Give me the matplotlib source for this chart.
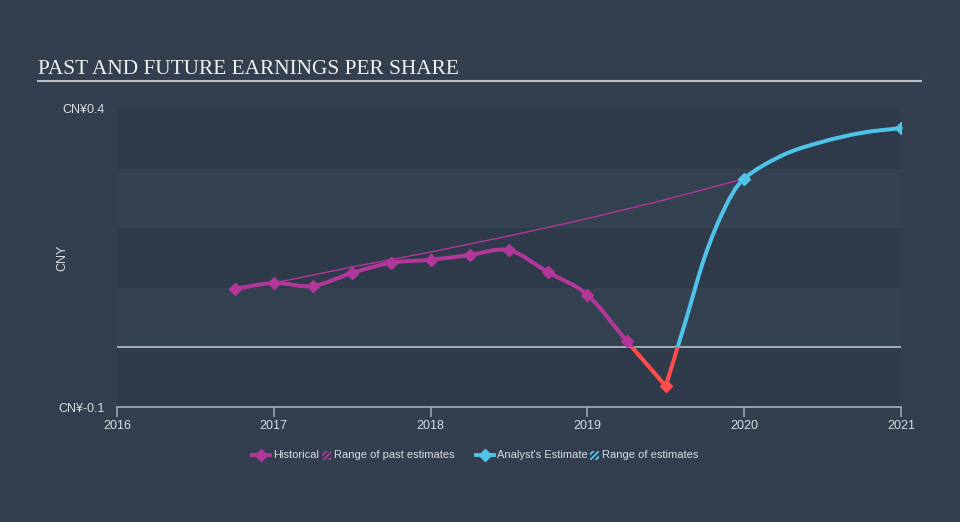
import matplotlib
matplotlib.use("Agg")
import matplotlib.pyplot as plt
from matplotlib.lines import Line2D
from matplotlib.patches import Rectangle, PathPatch
from matplotlib.path import Path

# data
hist_years = [2016.75, 2017.0, 2017.25, 2017.5, 2017.75, 2018.0, 2018.25, 2018.5,
              2018.75, 2019.0, 2019.25, 2019.5]
hist_eps = [0.098, 0.108, 0.103, 0.125, 0.142, 0.147, 0.155, 0.163,
            0.126, 0.088, 0.011, -0.065]

fcst_years = [2019.5, 2019.625, 2019.75, 2019.875, 2020.0, 2020.25, 2020.5, 2020.75, 2021.0]
fcst_eps = [-0.065, 0.043, 0.153, 0.233, 0.283, 0.323, 0.345, 0.360, 0.368]
fcst_marked = [4, 8]

past_est_years = [2017.0, 2017.5, 2018.0, 2018.5, 2019.0, 2019.5, 2020.0]
past_est_eps = [0.108, 0.135, 0.160, 0.187, 0.216, 0.248, 0.283]

x_ticks = [2016, 2017, 2018, 2019, 2020, 2021]
y_ticks = [-0.1, 0.4]
y_ticklabels = ["CN¥-0.1", "CN¥0.4"]

BG = "#333f4f"
BAND_DARK = "#2f3b4a"
BAND_LIGHT = "#344150"
MAGENTA = "#b2379b"
BLUE = "#4fc3e8"
RED = "#ff4d4d"
TXT = "#d8dde2"
AXIS = "#a3afbb"

plt.rcParams['font.family'] = ['Liberation Sans', 'DejaVu Sans']
plt.rcParams['hatch.linewidth'] = 1.3

fig = plt.figure(figsize=(9.6, 5.22), dpi=100, facecolor=BG)
ax = fig.add_axes([0.1219, 0.2203, 0.8166, 0.5709])
ax.set_facecolor(BAND_LIGHT)
ax.set_xlim(2016, 2021)
ax.set_ylim(-0.1, 0.4)

# horizontal bands
for lo in [-0.1, 0.1, 0.3]:
    ax.axhspan(lo, lo + 0.1, color=BAND_DARK, lw=0, zorder=0)
ax.axhline(0, color="#c4c8cc", lw=1.1, zorder=1)

# range of past estimates
ax.plot(past_est_years, past_est_eps, color=MAGENTA, lw=1, zorder=2)


def smooth_path(x, y):
    # catmull-rom through the points, drawn as cubic bezier segments
    n = len(x)
    verts = [(x[0], y[0])]
    codes = [Path.MOVETO]
    for i in range(n - 1):
        i0 = max(i - 1, 0)
        i3 = min(i + 2, n - 1)
        c1 = (x[i] + (x[i + 1] - x[i0]) / 6, y[i] + (y[i + 1] - y[i0]) / 6)
        c2 = (x[i + 1] - (x[i3] - x[i]) / 6, y[i + 1] - (y[i3] - y[i]) / 6)
        verts += [c1, c2, (x[i + 1], y[i + 1])]
        codes += [Path.CURVE4] * 3
    return Path(verts, codes)


def two_tone(x, y, pos_color):
    # same curve twice: clipped above zero and below zero
    for col, lo, hi in [(pos_color, 0, 1), (RED, -1, 0)]:
        p = PathPatch(smooth_path(x, y), fill=False, edgecolor=col, lw=2.9,
                      capstyle='round', joinstyle='round', zorder=3)
        ax.add_patch(p)
        p.set_clip_path(Rectangle((2000, lo), 50, hi - lo, transform=ax.transData))


two_tone(hist_years, hist_eps, MAGENTA)
two_tone(fcst_years, fcst_eps, BLUE)
ax.plot(hist_years[:-1], hist_eps[:-1], 'D', ms=6.5, color=MAGENTA, zorder=4)
ax.plot(hist_years[-1], hist_eps[-1], 'D', ms=6.5, color=RED, zorder=4)
ax.plot([fcst_years[i] for i in fcst_marked], [fcst_eps[i] for i in fcst_marked],
        'D', ms=6.5, color=BLUE, zorder=4)

for s in ['top', 'right', 'left']:
    ax.spines[s].set_visible(False)
ax.spines['bottom'].set_color(AXIS)
ax.spines['bottom'].set_linewidth(1.2)

ax.set_xticks(x_ticks)
ax.set_xticklabels([str(t) for t in x_ticks])
ax.tick_params(axis='x', colors=AXIS, length=7, width=1.1, labelcolor=TXT,
               labelsize=9, pad=2)
ax.set_yticks(y_ticks)
ax.set_yticklabels(y_ticklabels)
ax.tick_params(axis='y', length=0, labelcolor=TXT, labelsize=9, pad=9)
ax.set_ylabel("CNY", color=TXT, fontsize=9)
ax.yaxis.set_label_coords(-0.062, 0.5)

# title with underline
fig.text(0.040, 0.858, "PAST AND FUTURE EARNINGS PER SHARE", color="#f2f2f2",
         fontsize=15.3, family="Liberation Serif")
fig.add_artist(Line2D([0.040, 0.959], [0.845, 0.845], color="#b8bcc2", lw=1.5))

# legend drawn by hand
ly = 1 - 455 / 522


def fx(px):
    return px / 960


def marker_item(x0, color, label):
    fig.add_artist(Line2D([fx(x0), fx(x0 + 18)], [ly, ly], color=color, lw=2.8))
    fig.add_artist(Line2D([fx(x0 + 9)], [ly], marker='D', ms=6.5, color=color))
    fig.text(fx(x0 + 21), ly, label, color=TXT, fontsize=8, va='center')


def hatch_item(x0, color, label):
    fig.add_artist(Rectangle((fx(x0), ly - 4.5 / 522), fx(9), 9 / 522, facecolor='none',
                             edgecolor=color, hatch='//////', lw=0, transform=fig.transFigure))
    fig.text(fx(x0 + 12), ly, label, color=TXT, fontsize=8, va='center')


marker_item(252, MAGENTA, "Historical")
hatch_item(322, MAGENTA, "Range of past estimates")
marker_item(476, BLUE, "Analyst's Estimate")
hatch_item(590, BLUE, "Range of estimates")

fig.savefig("out.png", dpi=100, facecolor=BG)
